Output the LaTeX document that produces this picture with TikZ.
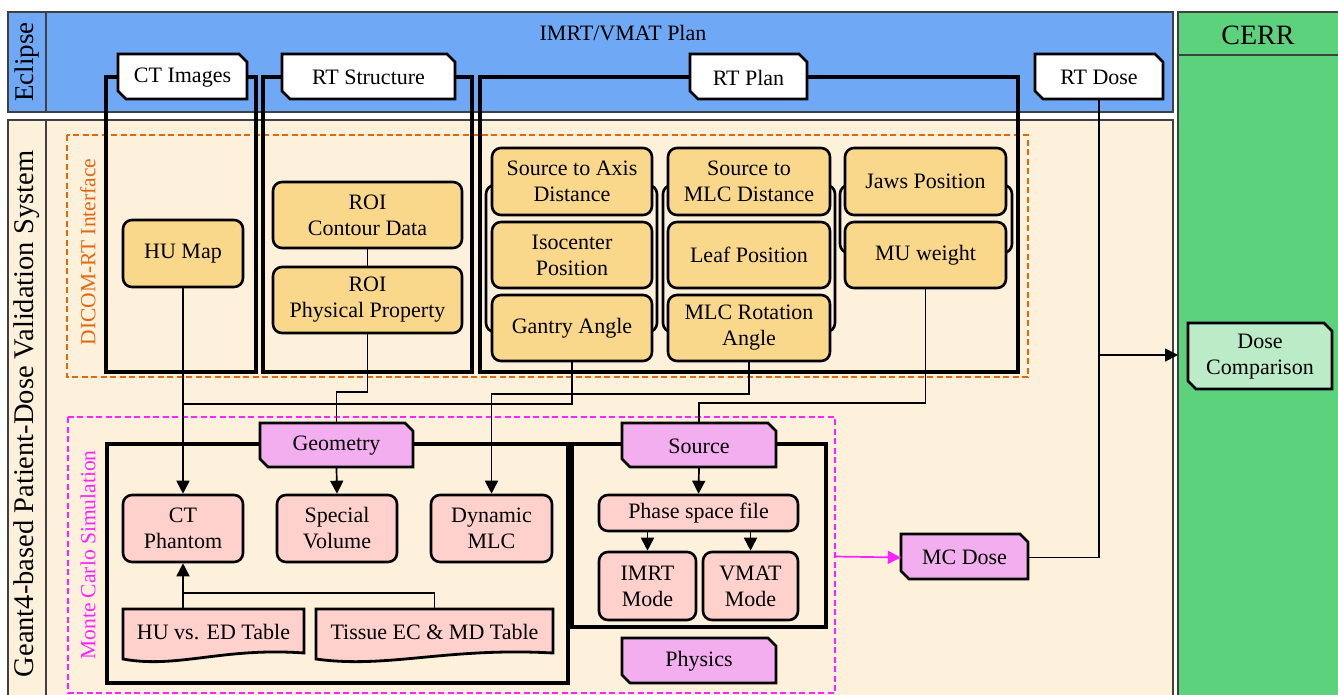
\documentclass[tikz,border=0pt]{standalone}
\usepackage{fontspec}
\setmainfont{Liberation Serif}
\usetikzlibrary{arrows.meta}
\definecolor{eclblue}{HTML}{6FA9F5}
\definecolor{cream}{HTML}{FDF1DC}
\definecolor{cerrgreen}{HTML}{5BD27B}
\definecolor{ltgreen}{HTML}{BCEBC8}
\definecolor{yel}{HTML}{F9D88B}
\definecolor{pnk}{HTML}{FFD1CD}
\definecolor{vio}{HTML}{F2AEEE}
\definecolor{dicomorange}{HTML}{E0680F}
\definecolor{mcmag}{HTML}{FF22FF}
\newcommand{\myfont}{\fontsize{22}{26}\selectfont}
\tikzset{
  frame/.style={draw=black!75, line width=1.3pt},
  grp/.style={draw=black, line width=3.2pt},
  tabedge/.style={draw=black, line width=2.8pt, line join=miter},
  rbox/.style={draw=black, line width=2.6pt, rounded corners=9pt, inner sep=0pt, align=center, font=\myfont},
  ybox/.style={rbox, fill=yel},
  pbox/.style={rbox, fill=pnk},
  conn/.style={draw=black, line width=1.7pt},
  arr/.style={conn, -{Triangle[length=13pt,width=13pt]}},
  lbl/.style={inner sep=0pt, align=center, font=\myfont},
}
% name, style, x1, y1, x2, y2, text
\newcommand{\bx}[7]{\node[#2, minimum width={#5-#3}, minimum height={#6-#4}] (#1) at ({(#3+#5)/2},{(#4+#6)/2}) {#7};}
% name, x1, y1, x2, y2, fill, text
\newcommand{\tabnode}[7]{%
  \filldraw[tabedge, fill=#6] (#2,#3) -- ({#4-8},#3) -- (#4,{#3+8}) -- (#4,#5) -- ({#2+8},#5) -- (#2,{#5-8}) -- cycle;
  \node[lbl, minimum width={#4-#2}, minimum height={#5-#3}] (#1) at ({(#2+#4)/2},{(#3+#5)/2+1}) {#7};}
% name, x1, y1, x2, ybase, text
\newcommand{\docnode}[6]{%
  \filldraw[tabedge, fill=pnk] (#2,#3) -- (#4,#3) -- (#4,#5) .. controls ({#2+0.55*(#4-#2)},{#5-6}) and ({#2+0.3*(#4-#2)},{#5+16}) .. (#2,{#5+6}) -- cycle;
  \node[lbl, minimum width={#4-#2}, minimum height={#5-#3}] (#1) at ({(#2+#4)/2},{(#3+#5)/2+1}) {#6};}
\begin{document}
\begin{tikzpicture}[x=1pt,y=-1pt]
\useasboundingbox (0,0) rectangle (1338,694);
\clip (0,0) rectangle (1338,694);
% bands
\filldraw[fill=eclblue, frame] (8,12) rectangle (1173,112);
\draw[frame] (46,12) -- (46,112);
\filldraw[fill=cream, frame] (8,120) rectangle (1173,705);
\draw[frame] (46,120) -- (46,705);
\filldraw[fill=cerrgreen, frame] (1178,12) rectangle (1345,705);
\draw[frame] (1178,55) -- (1345,55);
\node[rotate=90, inner sep=0pt, font=\fontsize{27}{30}\selectfont] (ecl) at (27,62) {Eclipse};
\node[rotate=90, inner sep=0pt, font=\fontsize{28.5}{30}\selectfont] (g4) at (27,414) {Geant4-based Patient-Dose Validation System};
\node[inner sep=0pt, font=\fontsize{28}{30}\selectfont] (cerr) at (1258,35) {CERR};
\node[lbl] (plan) at (623,33) {IMRT/VMAT Plan};
% dashed regions
\draw[dicomorange, line width=1.6pt, dash pattern=on 6pt off 3.5pt] (67,135) rectangle (1028,377);
\node[rotate=90, inner sep=0pt, text=dicomorange, font=\fontsize{21.5}{22}\selectfont] (dicom) at (88,252) {DICOM-RT Interface};
\draw[mcmag, line width=1.6pt, dash pattern=on 6pt off 3.5pt] (68,417) rectangle (835,693);
\node[rotate=90, inner sep=0pt, text=mcmag, font=\fontsize{21.5}{22}\selectfont] (mclbl) at (88,555) {Monte Carlo Simulation};
% group boxes
\draw[grp] (106,77) rectangle (256,372);
\draw[grp] (263,77) rectangle (472,372);
\draw[grp] (480,77) rectangle (1018,372);
\draw[grp] (107,444) rectangle (568,683);
\draw[grp] (572,444) rectangle (826,627);
% column brackets
\draw[draw=black, line width=2.6pt, rounded corners=9pt] (486,185) rectangle (657,332);
\draw[draw=black, line width=2.6pt, rounded corners=9pt] (663,185) rectangle (835,332);
\draw[draw=black, line width=2.6pt, rounded corners=9pt] (840,185) rectangle (1012,253);
% tabs
\tabnode{ct}{118}{54}{247}{99}{white}{CT Images}
\tabnode{rts}{282}{54}{455}{99}{white}{RT Structure}
\tabnode{rtp}{690}{54}{807}{99}{white}{RT Plan}
\tabnode{rtd}{1035}{54}{1163}{99}{white}{RT Dose}
\tabnode{geo}{260}{423}{413}{467}{vio}{Geometry}
\tabnode{src}{622}{423}{776}{467}{vio}{Source}
\tabnode{phy}{622}{638}{776}{683}{vio}{Physics}
\tabnode{mcd}{901}{534}{1028}{579}{vio}{MC Dose}
\tabnode{dc}{1188}{323}{1332}{389}{ltgreen}{Dose\\Comparison}
% yellow boxes
\bx{hu}{ybox}{123}{220}{243}{287}{HU Map}
\bx{roic}{ybox}{273}{182}{462}{248}{ROI\\Contour Data}
\bx{roip}{ybox}{273}{267}{462}{333}{ROI\\Physical Property}
\bx{sad}{ybox}{492}{148}{652}{215}{Source to Axis\\Distance}
\bx{iso}{ybox}{492}{222}{652}{288}{Isocenter\\Position}
\bx{gan}{ybox}{492}{295}{652}{361}{Gantry Angle}
\bx{smd}{ybox}{668}{148}{830}{215}{Source to\\MLC Distance}
\bx{leaf}{ybox}{668}{222}{830}{288}{Leaf Position}
\bx{mlcr}{ybox}{668}{295}{830}{361}{MLC Rotation\\Angle}
\bx{jaw}{ybox}{845}{148}{1006}{215}{Jaws Position}
\bx{mu}{ybox}{845}{222}{1006}{288}{MU weight}
% pink boxes
\bx{ctp}{pbox}{123}{495}{243}{562}{CT\\Phantom}
\bx{sv}{pbox}{277}{495}{397}{562}{Special\\Volume}
\bx{dmlc}{pbox}{431}{495}{552}{562}{Dynamic\\MLC}
\bx{psf}{pbox}{599}{495}{798}{531}{Phase space file}
\bx{imrt}{pbox}{599}{552}{696}{620}{IMRT\\Mode}
\bx{vmat}{pbox}{703}{552}{798}{620}{VMAT\\Mode}
\docnode{hued}{123}{609}{304}{653}{HU vs. ED Table}
\docnode{tiss}{316}{609}{553}{653}{Tissue EC \& MD Table}
% connectors
\coordinate (j1) at (183,404);
\coordinate (ctjoin) at (183,593);
\coordinate (dj) at (1099,355);
\coordinate (gedge) at (1178,355);
\coordinate (mcedge) at (835,556.5);
\draw[conn] (roic) -- (roip);
\draw[conn] (roip.south) -- ++(0,58) -| (geo.north);
\draw[arr] (hu.south) -- (ctp.north);
\draw[conn] (gan.south) |- (j1);
\draw[arr] (mlcr.south) -- ++(0,32) -| (dmlc.north);
\draw[conn] (mu.south) -- ++(0,114) -| (src.north);
\draw[arr] (geo.south) -- (sv.north);
\draw[arr] (src.south) -- (psf.north);
\draw[arr] (psf.south -| imrt.north) -- (imrt.north);
\draw[arr] (psf.south -| vmat.north) -- (vmat.north);
\draw[arr] (hued.north -| ctp.south) -- (ctp.south);
\draw[conn] (tiss.north) |- (ctjoin);
\draw[conn] (rtd.south) -- (rtd.south |- mcd.east);
\draw[conn] (mcd.east) -- (rtd.south |- mcd.east);
\draw[arr] (dj) -- (gedge);
\draw[arr, draw=mcmag, line width=1.7pt] (mcedge) -- (mcd.west);
\end{tikzpicture}
\end{document}
